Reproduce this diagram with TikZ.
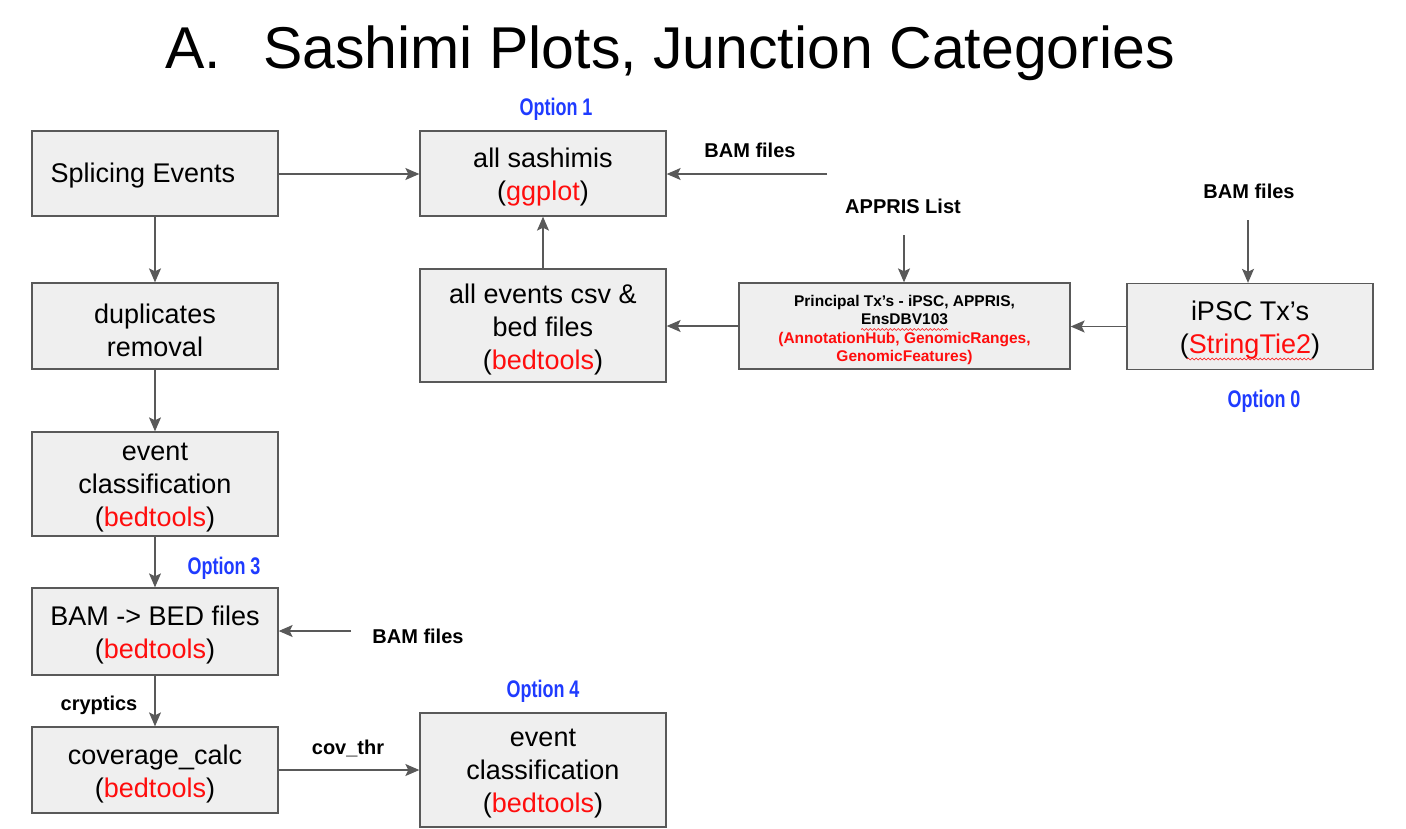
\documentclass[tikz,border=0pt]{standalone}
\usepackage{fontspec}
\setmainfont{Liberation Sans}
\usetikzlibrary{arrows.meta,decorations.pathmorphing}
\definecolor{boxfill}{HTML}{EFEFEF}
\definecolor{edgegray}{HTML}{595959}
\definecolor{myred}{HTML}{FF0D0D}
\definecolor{optblue}{HTML}{1F3BFF}
\newcommand{\rd}[1]{\textcolor{myred}{#1}}
\begin{document}
\begin{tikzpicture}[x=1pt,y=-1pt,
 box/.style={draw=edgegray, fill=boxfill, line width=1.3pt, inner sep=0pt,
   minimum width=246pt},
 btext/.style={inner sep=0pt, align=center, yshift=-4pt, font=\fontsize{27}{33}\selectfont},
 conn/.style={draw=edgegray, line width=1.3pt, -{Stealth[length=14pt,width=12pt,inset=3pt]}},
 lbl/.style={inner sep=0pt, font=\bfseries\fontsize{20}{24}\selectfont},
 opt/.style={inner sep=0pt, text=optblue, font=\bfseries\fontsize{24}{28}\selectfont},
 wavy/.style={draw=myred, line width=0.6pt, decorate, decoration={snake, amplitude=0.9pt, segment length=4pt}}]
\useasboundingbox (0,0) rectangle (1406,828);

% title
\node[inner sep=0pt, anchor=base west, font=\fontsize{59}{70}\selectfont] (tA) at (165,68) {A.};
\node[inner sep=0pt, anchor=base west, font=\fontsize{59}{70}\selectfont] (tB) at (263,68) {Sashimi Plots, Junction Categories};

% left column
\node[box, minimum height=85pt] (se) at (155,173.5) {};
\node[btext, yshift=4pt] (setext) at (143,176) {Splicing Events};
\node[box, minimum height=86pt] (dup) at (155,326) {};
\node[btext] (duptext) at (dup) {duplicates\\removal};
\node[box, minimum height=104pt] (ec) at (155,484) {};
\node[btext] (ectext) at (ec) {event\\classification\\(\rd{bedtools})};
\node[box, minimum height=87pt] (bb) at (155,631.5) {};
\node[btext] (bbtext) at (bb) {BAM -> BED files\\(\rd{bedtools})};
\node[box, minimum height=86pt] (cc) at (155,770) {};
\node[btext] (cctext) at (cc) {coverage\_calc\\(\rd{bedtools})};

% middle column
\node[box, minimum height=85pt] (as) at (543,173.5) {};
\node[btext] (astext) at (as) {all sashimis\\(\rd{ggplot})};
\node[box, minimum height=113pt] (ae) at (543,325.5) {};
\node[btext] (aetext) at (ae) {all events csv \&\\bed files\\(\rd{bedtools})};
\node[box, minimum height=114pt] (ec2) at (543,770) {};
\node[btext] (ec2text) at (ec2) {event\\classification\\(\rd{bedtools})};

% right boxes
\node[box, minimum width=331pt, minimum height=86pt] (pt) at (904.5,326) {};
\node[btext, font=\bfseries\fontsize{15.5}{18.5}\selectfont] (pttext) at (pt)
  {Principal Tx’s - iPSC, APPRIS,\\EnsDBV103\\\rd{(AnnotationHub, GenomicRanges,}\\\rd{GenomicFeatures)}};
\node[box, minimum height=86pt] (ipsc) at (1250,326.5) {};
\node[btext] (ipsctext) at (ipsc) {iPSC Tx’s\\(\rd{StringTie2})};

% spell-check underlines
\draw[wavy] (861,329.5) -- (948,329.5);
\draw[wavy] (1187,359) -- (1313,359);

% labels
\node[lbl] (bam1) at (750,150) {BAM files};
\node[lbl] (appris) at (903,206) {APPRIS List};
\node[lbl] (bam2) at (1249,191) {BAM files};
\node[lbl] (bam3) at (418,636) {BAM files};
\node[lbl] (cryp) at (99,705) {cryptics};
\node[lbl] (cov) at (348,748) {cov\_thr};

\node[opt] (o1) at (556,109) {\scalebox{0.75}[1]{Option 1}};
\node[opt] (o0) at (1264,401) {\scalebox{0.75}[1]{Option 0}};
\node[opt] (o3) at (224,568) {\scalebox{0.75}[1]{Option 3}};
\node[opt] (o4) at (543,691) {\scalebox{0.75}[1]{Option 4}};

% free ends
\coordinate (bam1s) at (827,174);
\coordinate (aps) at (904,235);
\coordinate (bam2s) at (1248,220);
\coordinate (bam3s) at (351,631);

% connectors
\draw[conn] (se.east |- 0,174) -- (as.west |- 0,174);
\draw[conn] (bam1s) -- (as.east |- bam1s);
\draw[conn] (ae.north) -- (as.south);
\draw[conn] (pt.west) -- (ae.east |- pt.west);
\draw[conn] (ipsc.west) -- (pt.east |- ipsc.west);
\draw[conn] (aps) -- (aps |- pt.north);
\draw[conn] (bam2s) -- (bam2s |- ipsc.north);
\draw[conn] (se.south) -- (dup.north);
\draw[conn] (dup.south) -- (ec.north);
\draw[conn] (ec.south) -- (bb.north);
\draw[conn] (bam3s) -- (bb.east |- bam3s);
\draw[conn] (bb.south) -- (cc.north);
\draw[conn] (cc.east) -- (ec2.west |- cc.east);
\end{tikzpicture}
\end{document}
